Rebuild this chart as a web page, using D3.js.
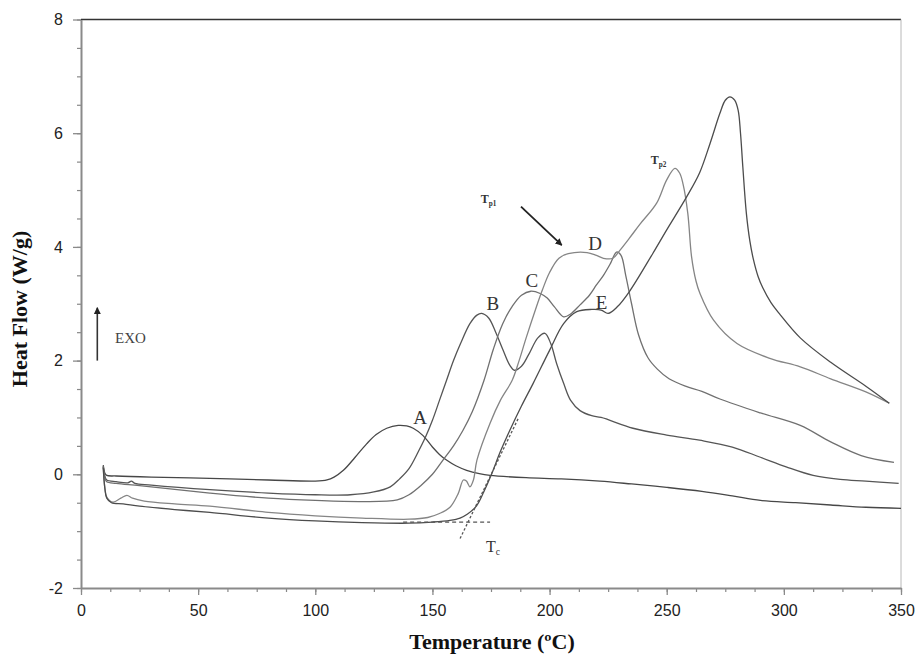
<!DOCTYPE html>
<html>
<head>
<meta charset="utf-8">
<script src="https://cdn.jsdelivr.net/npm/d3@7"></script>
<style>
  html, body { margin: 0; padding: 0; background: #fff; }
  svg { display: block; }
</style>
</head>
<body>
<svg id="chart" width="917" height="655"></svg>
<script>
// ---- Data (temperature in °C, heat flow in W/g) ----
const curveA = [[9.5,0.16],[10.2,0.02],[11,-0.02],[15,-0.03],[30,-0.05],[55,-0.07],[80,-0.1],[100,-0.12],[105,-0.1],[108,-0.05],[112,0.07],[117,0.3],[122,0.54],[126,0.7],[130.5,0.81],[135.4,0.86],[139,0.85],[141.8,0.81],[146,0.68],[150,0.48],[153,0.35],[156,0.25],[160,0.15],[164.6,0.07],[170,0.01],[174.6,-0.02],[190,-0.06],[205,-0.08],[221.5,-0.12],[235,-0.17],[250,-0.23],[265,-0.3],[278,-0.38],[290,-0.46],[305,-0.5],[320,-0.54],[335,-0.58],[350,-0.6]];
const curveB = [[9.5,0.14],[10.3,-0.05],[11,-0.1],[15,-0.13],[20,-0.15],[21.5,-0.12],[23,-0.16],[30,-0.19],[55,-0.27],[80,-0.33],[100,-0.36],[115,-0.36],[125,-0.31],[132,-0.22],[136,-0.08],[140,0.1],[144,0.4],[147,0.65],[150,0.95],[153,1.3],[156,1.65],[159,2.0],[162,2.3],[166,2.65],[169,2.8],[171,2.83],[174,2.75],[177,2.5],[180,2.2],[183,1.92],[185,1.83],[188,1.9],[191,2.1],[195,2.4],[198,2.48],[200.5,2.3],[203,1.95],[206,1.6],[209,1.3],[213,1.12],[218,1.03],[222,1.0],[235.6,0.81],[250,0.69],[264,0.6],[278,0.48],[290,0.3],[301,0.13],[312.5,-0.02],[324,-0.09],[335,-0.12],[349,-0.16]];
const curveC = [[9.5,0.14],[10.3,-0.08],[11,-0.13],[15,-0.16],[25,-0.2],[55,-0.33],[80,-0.42],[100,-0.46],[120,-0.48],[135,-0.45],[140,-0.36],[145,-0.2],[150,0.0],[154.5,0.25],[159,0.5],[163,0.77],[167,1.1],[172,1.65],[176,2.2],[180,2.65],[184,2.95],[188,3.15],[192,3.22],[196,3.18],[199,3.1],[202,2.95],[206,2.77],[209,2.82],[213,2.98],[217,3.15],[220,3.33],[223,3.5],[226,3.71],[228.6,3.91],[230.5,3.85],[232.5,3.5],[235,3.0],[238,2.45],[242,2.05],[246,1.85],[251,1.68],[258,1.55],[265,1.46],[273,1.32],[290,1.08],[307,0.86],[320,0.57],[333,0.33],[347,0.21]];
const curveD = [[9.5,0.12],[10.2,-0.25],[11,-0.4],[13.7,-0.49],[17,-0.42],[19.6,-0.37],[22,-0.42],[27,-0.47],[40,-0.52],[55,-0.56],[80,-0.67],[100,-0.73],[120,-0.77],[140,-0.79],[148,-0.76],[153,-0.69],[157.5,-0.58],[161,-0.34],[163.2,-0.1],[164.5,-0.12],[166,-0.22],[167.5,-0.1],[169,0.25],[174.6,0.9],[179,1.3],[184,1.65],[187,2.0],[190,2.4],[194,2.9],[197,3.25],[200,3.55],[204,3.8],[208,3.88],[216,3.9],[220,3.85],[223,3.8],[227,3.8],[230,3.94],[234,4.15],[238.6,4.4],[245.7,4.77],[250,5.18],[253.5,5.38],[255.5,5.3],[257,5.1],[259,4.59],[260.6,3.83],[262.5,3.4],[264.2,3.18],[270,2.71],[280,2.3],[294,2.04],[307,1.89],[320,1.68],[335,1.45],[345,1.25]];
const curveE = [[9.5,0.12],[10.2,-0.25],[11,-0.42],[13,-0.5],[18,-0.52],[25,-0.56],[40,-0.62],[55,-0.67],[80,-0.77],[100,-0.82],[120,-0.85],[140,-0.86],[150,-0.84],[157.5,-0.81],[161.8,-0.77],[165,-0.7],[168.9,-0.55],[172,-0.3],[175.3,0.01],[179,0.4],[183,0.77],[188,1.2],[193,1.6],[200,2.18],[206,2.65],[211.6,2.86],[218,2.9],[222,2.89],[225,2.83],[229,2.95],[234,3.21],[244,3.88],[250,4.3],[258.5,4.88],[264,5.3],[268.5,5.82],[272.7,6.35],[275,6.58],[277,6.64],[279,6.58],[280.5,6.4],[281.5,6.0],[282.5,5.4],[284,4.59],[285.5,4.1],[287,3.78],[289,3.48],[291,3.28],[294.5,3.02],[298,2.83],[307,2.4],[320,1.97],[335,1.55],[345,1.25]];

const seriesNames = ["A","B","C","D","E"];
const seriesData = [curveA, curveB, curveC, curveD, curveE];

// onset construction lines (Tc)
const baselineExtrap = [[137.5,-0.84],[174.6,-0.84]];
const tangentLine = [[161.8,-1.13],[186.6,0.98]];

// label anchor positions (data coords)
const curveLabels = [["A",144.7,1.01],["B",175.8,3.0],["C",192.4,3.42],["D",219.4,4.06],["E",222.2,3.03]];

const xTicks = [0,50,100,150,200,250,300,350];
const yTicks = [-2,0,2,4,6,8];

// ---- Layout ----
const svg = d3.select("#chart");
const L = 81, R = 901, T = 19.5, B = 588;
const x = d3.scaleLinear().domain([0,350]).range([L,R]);
const y = d3.scaleLinear().domain([-2,8]).range([B,T]);

const serif = "'Liberation Serif','Times New Roman',serif";
const sans = "'Liberation Sans',Arial,sans-serif";

svg.append("rect").attr("width",917).attr("height",655).attr("fill","#fff");

// frame: top dark, right light
svg.append("line").attr("x1",L).attr("x2",R).attr("y1",T).attr("y2",T)
  .attr("stroke","#333").attr("stroke-width",1.5);
svg.append("line").attr("x1",R).attr("x2",R).attr("y1",T).attr("y2",B)
  .attr("stroke","#b8b8b8").attr("stroke-width",1);

// minor ticks
const xMinor = d3.range(0,350.01,12.5);
const yMinor = d3.range(-2,8.01,0.5);
svg.append("g").attr("transform",`translate(0,${B})`)
  .call(d3.axisBottom(x).tickValues(xMinor).tickSize(4).tickFormat(""))
  .call(g=>g.select(".domain").remove())
  .call(g=>g.selectAll("line").attr("stroke","#888").attr("stroke-width",1.2));
svg.append("g").attr("transform",`translate(${L},0)`)
  .call(d3.axisLeft(y).tickValues(yMinor).tickSize(4).tickFormat(""))
  .call(g=>g.select(".domain").remove())
  .call(g=>g.selectAll("line").attr("stroke","#888").attr("stroke-width",1.2));

// major axes
const fmt = d => String(d);
const xAxis = svg.append("g").attr("transform",`translate(0,${B})`)
  .call(d3.axisBottom(x).tickValues(xTicks).tickFormat(fmt).tickSize(7).tickPadding(10).tickSizeOuter(0));
const yAxis = svg.append("g").attr("transform",`translate(${L},0)`)
  .call(d3.axisLeft(y).tickValues(yTicks).tickFormat(fmt).tickSize(8).tickPadding(10).tickSizeOuter(0));
[xAxis,yAxis].forEach(g=>{
  g.select(".domain").attr("stroke","#8a8a8a").attr("stroke-width",2);
  g.selectAll(".tick line").attr("stroke","#8a8a8a").attr("stroke-width",1.3);
  g.selectAll(".tick text").attr("font-family",sans).attr("font-size",16).attr("fill","#222");
});

// curves
const line = d3.line().x(d=>x(d[0])).y(d=>y(d[1])).curve(d3.curveCatmullRom.alpha(0.5));
const colors = {A:"#474747",B:"#555",C:"#707070",D:"#858585",E:"#4c4c4c"};
seriesData.forEach((d,i)=>{
  svg.append("path").attr("d",line(d)).attr("fill","none")
    .attr("stroke",colors[seriesNames[i]]).attr("stroke-width",1.3).attr("stroke-linejoin","round");
});

// onset construction
const straight = d3.line().x(d=>x(d[0])).y(d=>y(d[1]));
svg.append("path").attr("d",straight(baselineExtrap)).attr("stroke","#555").attr("stroke-width",1.2)
  .attr("stroke-dasharray","4,3").attr("fill","none");
svg.append("path").attr("d",straight(tangentLine)).attr("stroke","#555").attr("stroke-width",1.3)
  .attr("stroke-dasharray","2.5,2").attr("fill","none");

// curve letters
curveLabels.forEach(([t,lx,ly])=>{
  svg.append("text").attr("x",x(lx)).attr("y",y(ly)).attr("dy","0.35em")
    .attr("text-anchor","middle").attr("font-family",serif).attr("font-size",19)
    .attr("fill","#333").text(t);
});

// subscripted T labels
function tLabel(cx, cy, sub, size, bold){
  const t = svg.append("text").attr("x",x(cx)).attr("y",y(cy)).attr("dy","0.35em")
    .attr("text-anchor","middle").attr("font-family",serif).attr("fill","#333")
    .attr("font-weight",bold?"bold":"normal").attr("font-size",size);
  t.append("tspan").text("T");
  t.append("tspan").attr("font-size",size*0.6).attr("dy","0.35em").text(sub);
}
tLabel(174.0, 4.84, "p1", 12, true);
tLabel(246.5, 5.53, "p2", 12, true);
tLabel(175.9, -1.26, "c", 16, false);

// Tp1 arrow
svg.append("defs").append("marker").attr("id","ah").attr("viewBox","0 0 10 10")
  .attr("refX",9).attr("refY",5).attr("markerWidth",7).attr("markerHeight",7)
  .attr("orient","auto").attr("markerUnits","userSpaceOnUse")
  .append("path").attr("d","M0,0 L10,5 L0,10 z").attr("fill","#222");
svg.append("line").attr("x1",x(187.8)).attr("y1",y(4.71)).attr("x2",x(205.2)).attr("y2",y(4.03))
  .attr("stroke","#222").attr("stroke-width",1.8).attr("marker-end","url(#ah)");

// EXO arrow
svg.append("line").attr("x1",x(6.96)).attr("y1",y(2.0)).attr("x2",x(6.96)).attr("y2",y(2.93))
  .attr("stroke","#333").attr("stroke-width",1.6).attr("marker-end","url(#ah)");
svg.append("text").attr("x",x(14.5)).attr("y",y(2.41)).attr("dy","0.35em")
  .attr("font-family",serif).attr("font-size",15).attr("fill","#444").text("EXO");

// axis titles
svg.append("text").attr("x",492).attr("y",649).attr("text-anchor","middle")
  .attr("font-family",serif).attr("font-weight","bold").attr("font-size",22).attr("fill","#111")
  .text("Temperature (ºC)");
svg.append("text").attr("transform","translate(27,309) rotate(-90)").attr("text-anchor","middle")
  .attr("font-family",serif).attr("font-weight","bold").attr("font-size",22).attr("fill","#111")
  .text("Heat Flow (W/g)");
</script>
</body>
</html>
